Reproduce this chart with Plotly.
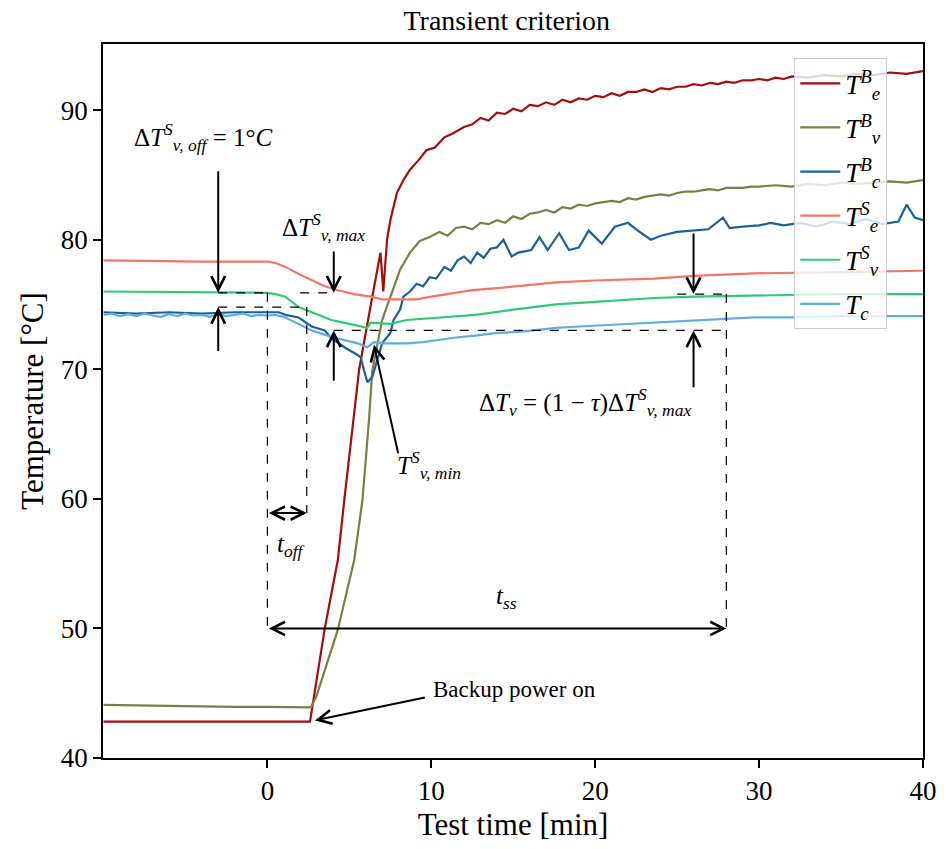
import plotly.graph_objects as go

# ---------------- data ----------------
t_TeB = [-10, -5, 0, 2.6, 3.5, 4.3, 4.7, 5.6, 6.4, 6.9, 7.07, 7.3, 7.5, 7.9, 8.3, 8.7, 9.2, 9.7,
         10.2, 10.8, 11.3, 12.0, 12.5, 13.0, 13.5, 14.0, 14.5, 15.0, 15.5, 16.0, 16.5, 17.0, 17.5,
         18.0, 18.5, 19.0, 19.5, 20.0, 20.5, 21.0, 21.5, 22.0, 22.5, 23.0, 23.5, 24.0, 24.5, 25.0,
         25.5, 26.0, 26.5, 27.0, 27.5, 28.0, 28.5, 29.0, 29.5, 30.0, 30.5, 31.0, 31.5, 32.0, 33.0,
         34.0, 35.0, 36.0, 37.0, 38.0, 39.0, 40.0]
T_TeB = [42.8, 42.8, 42.8, 42.8, 50.0, 55.3, 60.0, 70.0, 75.6, 79.0, 76.0, 80.0, 81.5, 83.6, 84.6, 85.4, 86.1, 86.9,
         87.1, 87.9, 88.2, 88.7, 88.9, 89.4, 89.2, 89.8, 89.7, 90.1, 89.9, 90.4, 90.3, 90.6, 90.4,
         90.8, 90.6, 90.9, 90.8, 91.1, 91.0, 91.3, 91.1, 91.4, 91.4, 91.6, 91.4, 91.7, 91.6, 91.8,
         91.8, 92.0, 91.9, 92.1, 92.0, 92.2, 92.1, 92.3, 92.3, 92.4, 92.3, 92.5, 92.4, 92.6, 92.5,
         92.7, 92.6, 92.8, 92.7, 92.9, 92.8, 93.0]

t_TvB = [-10, -8, -6, -4, -2, 0, 2, 2.66, 3.0, 3.5, 4.3, 5.3, 5.8, 6.2, 6.4, 7.0, 7.5, 8.1, 8.7, 9.3,
         9.9, 10.5, 11.0, 11.5, 12.0, 12.5, 13.0, 13.5, 14.0, 14.5, 15.0, 15.5, 16.0, 16.5, 17.0,
         17.5, 18.0, 18.5, 19.0, 19.5, 20.0, 20.5, 21.0, 21.5, 22.0, 22.5, 23.0, 23.5, 24.0, 24.5,
         25.0, 25.5, 26.0, 26.5, 27.0, 27.5, 28.0, 28.5, 29.0, 29.5, 30.0, 31.0, 32.0, 33.0, 34.0,
         35.0, 36.0, 37.0, 38.0, 39.0, 40.0]
T_TvB = [44.1, 44.05, 44.0, 44.0, 43.95, 43.95, 43.9, 43.9, 44.8, 46.8, 49.9, 55.3, 59.9, 66.1, 69.9, 73.8, 75.6, 77.7, 79.0, 79.9,
         80.2, 80.6, 80.3, 80.9, 81.0, 80.8, 81.3, 81.2, 81.5, 81.3, 81.8, 81.6, 82.0, 82.1, 82.3,
         82.1, 82.5, 82.4, 82.7, 82.6, 82.8, 82.9, 83.0, 82.9, 83.2, 83.1, 83.3, 83.4, 83.5, 83.4,
         83.6, 83.7, 83.7, 83.8, 83.9, 83.8, 84.0, 84.0, 84.0, 84.1, 84.1, 84.2, 84.1, 84.3, 84.2,
         84.4, 84.3, 84.4, 84.5, 84.4, 84.6]

t_TcB = [-10, -8, -6, -4, -2, 0, 0.7, 1.1, 1.9, 2.7, 3.5, 3.9, 4.7, 5.5, 5.7, 5.9, 6.1, 6.4, 6.7, 7.0,
         7.5, 7.7, 8.1, 8.3, 8.7, 9.1, 9.5, 9.9, 10.3, 10.8, 11.2, 11.6, 12.0, 12.4, 12.8, 13.2, 13.6,
         14.0, 14.4, 14.9, 15.3, 16.1, 16.6, 17.1, 17.8, 18.4, 19.0, 19.6, 20.4, 21.2, 22.0, 22.6,
         23.4, 24.0, 25.0, 26.0, 26.9, 27.8, 28.2, 29.0, 30.0, 30.7, 31.5, 32.5, 33.5, 34.5, 35.5,
         36.5, 37.5, 38.5, 39.0, 39.5, 40.0]
T_TcB = [74.4, 74.3, 74.4, 74.3, 74.4, 74.4, 74.4, 74.2, 74.0, 73.3, 73.0, 72.4, 71.7, 71.1, 70.9, 69.9, 69.0, 69.4, 70.7, 72.0,
         72.8, 73.8, 74.6, 75.6, 76.0, 76.6, 76.4, 77.1, 77.0, 77.9, 77.6, 78.4, 78.7, 78.2, 79.0, 78.6, 79.3,
         79.4, 80.0, 78.7, 79.0, 79.2, 80.2, 79.2, 80.5, 79.2, 79.4, 80.7, 79.7, 81.0, 81.3, 80.7,
         80.0, 80.3, 80.6, 80.7, 80.8, 81.7, 80.9, 81.0, 81.1, 81.3, 81.1, 81.3, 81.0, 81.4, 81.2,
         81.6, 81.2, 81.4, 82.7, 81.7, 81.5]

t_TeS = [-10, -8, -6, -4, -2, 0, 0.5, 1.1, 2.0, 2.7, 3.5, 4.3, 5.3, 6.3, 7.0, 7.9, 9.1, 10.0, 11.4,
         12.5, 14.4, 17.6, 20.0, 23.6, 26.0, 29.7, 35.0, 40.0]
T_TeS = [78.4, 78.35, 78.3, 78.3, 78.3, 78.3, 78.2, 77.9, 77.3, 76.9, 76.4, 76.1, 75.8, 75.6, 75.4, 75.4, 75.4, 75.6, 75.9,
         76.1, 76.3, 76.7, 76.85, 77.0, 77.2, 77.4, 77.5, 77.6]

t_TvS = [-10, -6, -2, 0, 0.5, 1.1, 1.9, 2.5, 3.9, 5.0, 6.1, 6.3, 7.5, 8.5, 10.5, 12.7, 15.0, 17.6,
         20.0, 23.6, 26.0, 29.7, 35.0, 40.0]
T_TvS = [76.0, 75.95, 75.9, 75.9, 75.8, 75.6, 74.8, 74.5, 73.8, 73.5, 73.2, 73.6, 73.5, 73.8, 74.0, 74.2, 74.6, 75.0,
         75.2, 75.5, 75.6, 75.7, 75.8, 75.8]

t_Tc = [-10, -9.5, -9, -8.5, -8, -7.5, -7, -6.5, -6, -5.5, -5, -4.5, -4, -3.5, -3, -2.5, -2, -1.5,
        -1, -0.5, 0, 0.5, 1.1, 2.7, 3.9, 5.5, 6.1, 6.5, 7.1, 8.5, 9.5, 10.5, 11.5, 12.7, 14.0, 15.5,
        17.6, 19.0, 20.5, 22.0, 23.6, 25.0, 27.0, 29.7, 32.0, 35.0, 38.0, 40.0]
T_Tc = [74.2, 74.3, 74.1, 74.25, 74.1, 74.3, 74.15, 74.05, 74.25, 74.1, 74.3, 74.15, 74.2, 74.05, 74.25, 74.1, 74.2, 74.3,
        74.1, 74.2, 74.15, 74.2, 74.0, 73.0, 72.5, 72.0, 71.7, 72.1, 72.0, 72.0, 72.1, 72.3, 72.45, 72.6, 72.8, 72.9,
        73.2, 73.3, 73.4, 73.5, 73.6, 73.7, 73.8, 74.0, 74.0, 74.1, 74.1, 74.1]

series_names = ["<i>T</i><sup><i>B</i></sup><sub><i>e</i></sub>",
                "<i>T</i><sup><i>B</i></sup><sub><i>v</i></sub>",
                "<i>T</i><sup><i>B</i></sup><sub><i>c</i></sub>",
                "<i>T</i><sup><i>S</i></sup><sub><i>e</i></sub>",
                "<i>T</i><sup><i>S</i></sup><sub><i>v</i></sub>",
                "<i>T</i><sub><i>c</i></sub>"]
series_colors = ["#a50d0d", "#7d7d45", "#1a6199", "#f57468", "#2ecc71", "#5dade2"]
series_t = [t_TeB, t_TvB, t_TcB, t_TeS, t_TvS, t_Tc]
series_T = [T_TeB, T_TvB, T_TcB, T_TeS, T_TvS, T_Tc]

# annotation geometry (data coordinates)
arrows = [  # (head_x, head_y, tail_x, tail_y)
    (-3.0, 75.9, -3.0, 85.4),
    (-3.0, 74.8, -3.0, 71.3),
    (4.05, 75.9, 4.05, 79.2),
    (4.05, 73.0, 4.05, 69.0),
    (26.0, 75.8, 26.0, 80.6),
    (26.0, 73.0, 26.0, 68.5),
    (6.5, 71.9, 8.0, 63.4),
    (2.9, 42.9, 9.7, 44.7),
]
double_arrows = [(0.0, 58.9, 2.4, 58.9), (0.0, 50.0, 28.0, 50.0)]
dashed = [
    (-3.0, 75.9, 0.0, 75.9),
    (-3.0, 74.8, 2.4, 74.8),
    (0.0, 75.9, 0.0, 50.0),
    (2.4, 74.8, 2.4, 58.9),
    (2.0, 75.9, 4.05, 75.9),
    (4.05, 73.0, 28.0, 73.0),
    (25.0, 75.8, 28.0, 75.8),
    (28.0, 75.8, 28.0, 50.0),
]
labels = [  # (x, y, text, size, xanchor)
    (-3.9, 87.9, "Δ<i>T</i><sup><i>S</i></sup><sub><i>v, off</i></sub> = 1°<i>C</i>", 25, "center"),
    (3.4, 81.0, "Δ<i>T</i><sup><i>S</i></sup><sub><i>v, max</i></sub>", 25, "center"),
    (19.4, 67.5, "Δ<i>T</i><sub><i>v</i></sub> = (1 − <i>τ</i>)Δ<i>T</i><sup><i>S</i></sup><sub><i>v, max</i></sub>", 25, "center"),
    (9.85, 62.6, "<i>T</i><sup><i>S</i></sup><sub><i>v, min</i></sub>", 25, "center"),
    (1.45, 56.4, "<i>t</i><sub><i>off</i></sub>", 25, "center"),
    (14.6, 52.4, "<i>t</i><sub><i>ss</i></sub>", 25, "center"),
    (10.0, 45.3, "Backup power on", 23, "left"),
]

FONT = "Liberation Serif, Times New Roman, serif"

fig = go.Figure()
for i, (name, col, tt, TT) in enumerate(zip(series_names, series_colors, series_t, series_T)):
    fig.add_trace(go.Scatter(x=tt, y=TT, mode="lines", name=name, legendgroup="g%d" % i,
                             line=dict(color=col, width=2.2)))

for hx, hy, tx, ty in arrows:
    fig.add_annotation(x=hx, y=hy, ax=tx, ay=ty, xref="x", yref="y", axref="x", ayref="y",
                       text="", showarrow=True, arrowhead=5, arrowsize=1.35, arrowwidth=2,
                       arrowcolor="black", standoff=0)
for x0, y0, x1, y1 in double_arrows:
    fig.add_annotation(x=x1, y=y1, ax=x0, ay=y0, xref="x", yref="y", axref="x", ayref="y",
                       text="", showarrow=True, arrowhead=5, startarrowhead=5, arrowside="end+start",
                       arrowsize=1.3, startarrowsize=1.3, arrowwidth=2, arrowcolor="black",
                       standoff=0, startstandoff=0)
for x0, y0, x1, y1 in dashed:
    fig.add_shape(type="line", x0=x0, y0=y0, x1=x1, y1=y1, xref="x", yref="y",
                  line=dict(color="black", width=1.2, dash="dash"))
for x, y, txt, sz, xa in labels:
    fig.add_annotation(x=x, y=y, xref="x", yref="y", text=txt, showarrow=False,
                       font=dict(family=FONT, size=sz, color="black"), xanchor=xa, yanchor="middle")

fig.update_layout(
    width=949, height=849,
    margin=dict(l=103, r=18, t=44, b=91),
    paper_bgcolor="white", plot_bgcolor="white",
    font=dict(family=FONT, size=26, color="black"),
    title=dict(text="Transient criterion", x=0.534, xanchor="center", y=0.976, yanchor="middle",
               font=dict(family=FONT, size=28, color="black")),
    showlegend=True,
    legend=dict(x=0.843, y=0.98, xanchor="left", yanchor="top",
                bgcolor="rgba(255,255,255,0.8)", bordercolor="#cccccc", borderwidth=1,
                font=dict(family=FONT, size=27, color="black"), tracegroupgap=6,
                itemwidth=40),
)
fig.update_xaxes(range=[-10.03, 40], tickvals=[0, 10, 20, 30, 40], showgrid=False, zeroline=False,
                 showline=True, linecolor="black", linewidth=1.5, mirror=True,
                 ticks="outside", ticklen=8, tickwidth=1.5, tickcolor="black",
                 title=dict(text="Test time [min]", standoff=8, font=dict(family=FONT, size=31)),
                 tickfont=dict(family=FONT, size=27))
fig.update_yaxes(range=[40, 95.1], tickvals=[40, 50, 60, 70, 80, 90], showgrid=False, zeroline=False,
                 showline=True, linecolor="black", linewidth=1.5, mirror=True,
                 ticks="outside", ticklen=8, tickwidth=1.5, tickcolor="black",
                 title=dict(text="Temperature [°C]", standoff=8, font=dict(family=FONT, size=31)),
                 tickfont=dict(family=FONT, size=27))

fig.write_html("out.html")
